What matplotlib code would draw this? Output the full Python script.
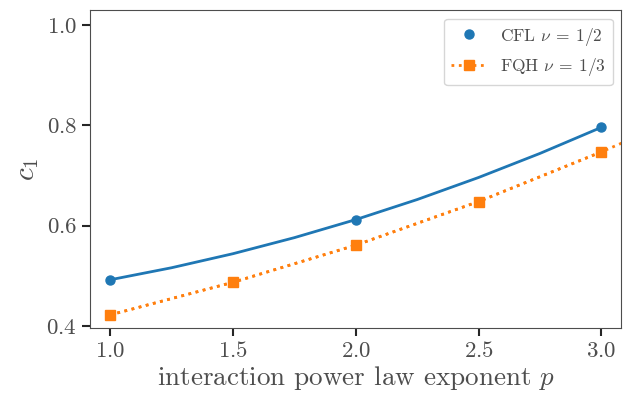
import matplotlib
matplotlib.use("Agg")
import matplotlib.pyplot as plt
import seaborn as sns

# data
p_cfl = [1.0, 2.0, 3.0]
c1_cfl = [0.492, 0.612, 0.796]
p_fqh = [1.0, 1.5, 2.0, 2.5, 3.0]
c1_fqh = [0.422, 0.487, 0.561, 0.648, 0.747]

# fitted curves
p_cfl_fit = [1.0, 1.25, 1.5, 1.75, 2.0, 2.25, 2.5, 2.75, 3.0]
c1_cfl_fit = [0.492, 0.516, 0.544, 0.576, 0.612, 0.652, 0.696, 0.744, 0.796]
p_fqh_fit = [1.0, 1.5, 2.0, 2.5, 3.0, 3.25]
c1_fqh_fit = [0.422, 0.487, 0.561, 0.648, 0.747, 0.800]

sns.set_style("ticks")
plt.rcParams['font.family'] = ['serif']
plt.rcParams['font.serif'] = ['cmr10', 'DejaVu Serif']
plt.rcParams['mathtext.fontset'] = 'cm'
plt.rcParams['axes.formatter.use_mathtext'] = True

blue = '#1f77b4'
orange = '#ff7f0e'

fig, ax = plt.subplots(figsize=(6.36, 3.97), dpi=100)
ax.plot(p_cfl_fit, c1_cfl_fit, '-', color=blue, lw=2)
ax.plot(p_cfl, c1_cfl, 'o', color=blue, ms=6.5, label=r'CFL $\nu\:=\:1/2$')
ax.plot(p_fqh_fit, c1_fqh_fit, ':', color=orange, lw=2)
ax.plot(p_fqh, c1_fqh, ':s', color=orange, lw=2, ms=7, label=r'FQH $\nu\:=\:1/3$')

ax.set_xlim(0.919, 3.081)
ax.set_ylim(0.396, 1.03)
ax.set_xticks([1.0, 1.5, 2.0, 2.5, 3.0])
ax.set_yticks([0.4, 0.6, 0.8, 1.0])
ax.tick_params(labelsize=16.5, length=6, width=1.5, colors='.15', labelcolor='.3')
ax.set_xlabel(r'interaction power law exponent $p$', fontsize=19.5, color='.3', labelpad=2)
ax.set_ylabel(r'$c_1$', fontsize=21, color='.3')
for s in ax.spines.values():
    s.set_color('.3')
ax.legend(loc='upper right', fontsize=12.5, labelcolor='.3')

plt.subplots_adjust(left=0.142, right=0.977, top=0.975, bottom=0.174)
fig.savefig('out.png', dpi=100)
